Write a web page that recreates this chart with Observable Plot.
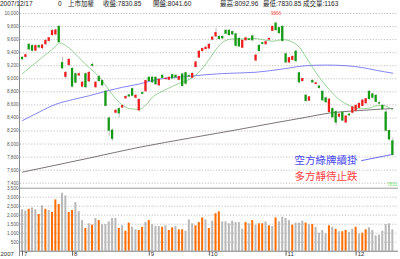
<!DOCTYPE html>
<html><head><meta charset="utf-8">
<script src="https://cdn.jsdelivr.net/npm/d3@7"></script>
<script src="https://cdn.jsdelivr.net/npm/@observablehq/plot@0.6"></script>
<style>
body{margin:0;background:#fff;}
#wrap{position:relative;width:400px;height:259px;overflow:hidden;font-family:"Liberation Sans","Noto Sans CJK TC",sans-serif;}
#hdr span{position:absolute;top:0;font-size:6.5px;line-height:7px;color:#222;white-space:pre;}
#vline{position:absolute;left:19px;top:0;width:1px;height:256px;background:#8a8a8a;}
.panel{position:absolute;left:0;}
</style></head><body>
<div id="wrap"><div id="hdr"></div><div id="price" class="panel" style="top:0"></div><div id="vol" class="panel" style="top:185px"></div><div id="vline"></div></div>
<script>
// ---- data ----
const HEADER_TEXT = ["2007/12/17","0","上市加權","收盤:7830.85","開盤:8041.60","最高:8092.96","最低:7830.85","成交量:1163"];
const OPEN  = [9320,9335,9520,9500,9430,9500,9470,9530,9580,9670,9680,9795,9240,9030,9210,9150,9070,9050,8880,9070,8960,9210,8870,9025,8965,8800,8390,8205,8480,8535,8560,8700,8745,8840,8710,8515,8780,8810,9015,9015,9015,8900,9045,8995,8985,9055,9045,8985,9065,9085,9040,9015,9180,9325,9425,9455,9465,9600,9650,9640,9640,9735,9735,9715,9680,9610,9475,9590,9600,9650,9280,9505,9545,9530,9600,9735,9845,9775,9795,9375,9250,9290,9415,9085,8965,8740,8665,8965,8920,8880,8800,8700,8490,8535,8490,8420,8480,8330,8450,8480,8510,8555,8585,8625,8800,8760,8738,8625,8585,8482,8200,8041.60];
const CLOSE = [9300,9360,9450,9430,9500,9480,9510,9580,9620,9730,9740,9560,9160,9090,9290,8880,8940,9070,8940,8870,9090,9200,8940,8965,8900,8585,8205,8080,8510,8470,8580,8720,8730,8740,8740,8675,8770,8965,8965,8945,8915,8985,9015,9000,9015,9005,9020,9025,8890,8925,9035,9075,9250,9415,9455,9475,9520,9630,9700,9610,9620,9690,9670,9680,9505,9495,9580,9620,9595,9590,9355,9425,9535,9560,9610,9795,9745,9700,9580,9250,9315,9335,9270,8945,8995,8660,8715,8945,8930,8860,8670,8640,8680,8410,8330,8450,8360,8420,8440,8560,8585,8615,8665,8687,8690,8710,8646,8620,8533,8205,8070,7830.85];
const HIGH  = [9340,9380,9540,9520,9520,9520,9530,9600,9640,9750,9760,9810,9330,9110,9310,9170,9090,9100,8960,9090,9110,9240,8960,9050,8980,8820,8420,8230,8530,8560,8600,8740,8760,8860,8760,8690,8800,8980,9030,9030,9030,9000,9060,9020,9030,9070,9060,9040,9080,9100,9060,9090,9270,9430,9470,9490,9540,9650,9775,9660,9660,9750,9750,9730,9700,9630,9600,9640,9620,9670,9370,9520,9560,9580,9630,9810,9866,9790,9810,9390,9330,9350,9430,9100,9010,8760,8730,8990,8950,8900,8820,8720,8700,8560,8510,8470,8500,8440,8470,8580,8600,8630,8680,8700,8820,8780,8760,8650,8600,8533,8210,8092.96];
const LOW   = [9280,9320,9430,9410,9420,9460,9440,9510,9560,9650,9660,9550,9140,9000,9180,8860,8920,9030,8860,8850,8940,9180,8850,8950,8880,8570,8120,8040,8460,8400,8540,8680,8710,8720,8690,8490,8750,8790,8950,8930,8900,8880,9000,8980,8970,8990,9000,8970,8870,8900,9020,9000,9170,9310,9410,9440,9450,9580,9630,9590,9600,9670,9650,9660,9490,9480,9460,9570,9580,9570,9260,9410,9520,9510,9580,9720,9730,9680,9560,9230,9230,9270,9250,8920,8950,8640,8650,8930,8900,8840,8650,8620,8470,8390,8280,8400,8340,8310,8420,8460,8490,8540,8570,8610,8670,8690,8630,8600,8520,8190,8050,7830.85];
const VOLUME = [2300,2230,2330,2400,2300,2040,2520,2330,2260,2150,2850,2600,3220,3070,2150,2260,2700,2190,1700,1260,1520,1450,1820,1700,1480,1480,1630,1820,1820,1260,1410,1110,1560,1330,1190,1150,1330,1590,1700,1480,1370,1370,1330,1410,1150,1300,1370,1190,1190,1110,1740,1520,1410,1590,1850,1740,1260,1670,2080,2190,1630,1630,1520,1670,1590,1590,1220,1590,1520,1700,1450,1520,1520,1630,1410,1370,1850,1630,1890,1820,1700,1450,1560,1560,1670,1560,1480,1480,1330,1000,1150,960,1410,1330,1220,1080,1080,1150,1040,1220,1330,960,1000,1190,1300,1150,850,890,1110,1480,1520,1190];
const VOL_UP = [0,0,1,0,0,1,0,1,0,1, 1,1,0,0,1,1,0,0,0,1, 0,1,0,1,0,0,0,0,0,1, 0,1,1,0,0,1,1,0,1,0, 0,0,1,0,1,1,0,1,1,0, 0,0,1,1,1,0,1,0,1,1, 0,0,0,0,0,0,0,1,0,1, 0,1,1,0,1,0,1,0,0,0, 0,1,0,0,0,1,0,1,0,0, 0,0,1,0,1,0,1,1,0,0, 1,0,1,1,0,0,0,0,0,0, 0,0];
const MA_SHORT_IDX = [0,5,10,11,14,17,20,23,26,29,32,35,37,39,42,47,50,52,55,58,60,63,66,69,73,75,78,81,83,85,87,89,92,95,98,101,104,106,108,111];
const MA_SHORT_VAL = [9080,9290,9500,9550,9470,9320,9170,9030,8820,8640,8545,8530,8600,8720,8810,8930,8990,9060,9230,9450,9560,9610,9610,9620,9590,9575,9600,9560,9480,9330,9170,9020,8830,8680,8590,8540,8550,8585,8590,8520];
const MA_MID_IDX = [0,5,10,15,20,25,30,35,40,50,60,70,78,85,91,97,102,106,111];
const MA_MID_VAL = [8360,8490,8610,8680,8740,8810,8870,8920,8985,9040,9080,9100,9150,9200,9210,9200,9170,9130,9085];
const MA_LONG_IDX = [0,20,35,50,65,74,85,92,100,106,111];
const MA_LONG_VAL = [7570,7785,7950,8090,8225,8310,8410,8475,8510,8530,8545];
const PRICE_TICKS = [7400,7600,7800,8000,8200,8400,8600,8800,9000,9200,9400,9600,9800,10000];
const VOL_TICKS = [500,1000,1500,2000,2500,3000,3500];
const MONTH_LABELS = ["7","8","9","10","11","12"];
const MONTH_START = [0,15,38,56,79,100];
const YEAR_LABEL = "2007";
const NOTE_TEXT = ["空方綠牌續掛","多方靜待止跌"];
const NOTE_I = [91,91];
const NOTE_P = [7745,7500];
const NOTE_LINE_I = [101.5,110.6];
const NOTE_LINE_P = [7745,7838];

// ---- layout ----
const HEADER_X = [0,58,68,103,153,220,263,303];
const FONT = "Liberation Sans, Noto Sans CJK TC, sans-serif";
const RED = "#f01c1c", GREEN = "#149a14";
const X_DOMAIN = [-0.6, 112.7];
const fmt = d3.format(",");

const hdr = document.getElementById("hdr");
HEADER_TEXT.forEach((t, k) => {
  const s = document.createElement("span");
  s.textContent = t; s.style.left = HEADER_X[k] + "px";
  hdr.appendChild(s);
});

const days = d3.range(OPEN.length).map(i => ({i, o: OPEN[i], c: CLOSE[i], h: HIGH[i], l: LOW[i]}));
const maS = MA_SHORT_IDX.map((i, k) => ({i, v: MA_SHORT_VAL[k]}));
const maM = MA_MID_IDX.map((i, k) => ({i, v: MA_MID_VAL[k]}));
const maL = MA_LONG_IDX.map((i, k) => ({i, v: MA_LONG_VAL[k]}));
const notes = NOTE_TEXT.map((t, k) => ({t, i: NOTE_I[k], p: NOTE_P[k], color: k === 0 ? "#4646f0" : "#ff4040"}));
const hiIdx = d3.maxIndex(HIGH);
const lastIdx = CLOSE.length - 1;

const grid = {stroke: "#b8b0b0", strokeDasharray: "1.2,1.6", strokeWidth: 0.8};

const price = Plot.plot({
  width: 400, height: 185,
  marginLeft: 20, marginRight: 2, marginTop: 13, marginBottom: 2.3,
  x: {domain: X_DOMAIN, axis: null},
  y: {domain: [7400, 10000], axis: null},
  style: {background: "transparent", fontFamily: FONT, overflow: "visible"},
  marks: [
    Plot.ruleY(PRICE_TICKS, grid),
    Plot.text(PRICE_TICKS, {y: d => d, text: d => fmt(d), frameAnchor: "left", textAnchor: "end", dx: -2, fontSize: 4.6, fill: "#555"}),
    Plot.line(maL, {x: "i", y: "v", stroke: "#5a5252", strokeWidth: 0.8, curve: "monotone-x"}),
    Plot.line(maM, {x: "i", y: "v", stroke: "#6464f4", strokeWidth: 0.8, curve: "monotone-x"}),
    Plot.line(maS, {x: "i", y: "v", stroke: "#6cbf6c", strokeWidth: 0.7, curve: "monotone-x"}),
    Plot.ruleX(days, {x: "i", y1: "l", y2: "h", stroke: "#a8a8a8", strokeWidth: 0.7}),
    Plot.rect(days, {x1: d => d.i - 0.34, x2: d => d.i + 0.34, y1: "o", y2: "c", insetTop: -0.5, insetBottom: -0.5,
      fill: d => d.c >= d.o ? RED : GREEN}),
    Plot.text([hiIdx], {x: d => d, y: d => HIGH[d], text: d => String(Math.round(HIGH[d])), dy: -9, fontSize: 4.6, fill: "#ff5050"}),
    Plot.text([lastIdx], {frameAnchor: "bottom-right", text: d => String(Math.round(LOW[d])), textAnchor: "end", lineAnchor: "bottom", dx: -1, dy: 2.3, fontSize: 4.6, fill: "#66dd66"}),
    Plot.link([0], {x1: () => NOTE_LINE_I[0], y1: () => NOTE_LINE_P[0], x2: () => NOTE_LINE_I[1], y2: () => NOTE_LINE_P[1], stroke: "#4646f0", strokeWidth: 0.8}),
    Plot.text(notes, {x: "i", y: "p", text: "t", fill: "color", fontSize: 10.5, fontFamily: "Noto Sans CJK TC"})
  ]
});
document.getElementById("price").appendChild(price);

const vols = VOLUME.map((v, i) => ({i, v, up: VOL_UP[i]}));
const VH = 74, VMT = 2.7, VMB = 8.3;
const vol = Plot.plot({
  width: 400, height: VH,
  marginLeft: 20, marginRight: 2, marginTop: VMT, marginBottom: VMB,
  x: {domain: X_DOMAIN, axis: null},
  y: {domain: [0, 3500], axis: null},
  style: {background: "transparent", fontFamily: FONT, overflow: "visible"},
  marks: [
    Plot.ruleY(VOL_TICKS.slice(0, -1), grid),
    Plot.ruleY(VOL_TICKS.slice(-1), {stroke: "#9a9a9a", strokeWidth: 1}),
    Plot.text(VOL_TICKS, {y: d => d, text: d => fmt(d), frameAnchor: "left", textAnchor: "end", dx: -2, fontSize: 4.6, fill: "#555"}),
    Plot.rect(vols, {x1: d => d.i - 0.3, x2: d => d.i + 0.3, y1: 0, y2: "v", fill: d => d.up ? "#ff6c00" : "#b8b8b8"}),
    Plot.ruleY([0], {stroke: "#7a7a7a", strokeWidth: 1}),
    Plot.ruleX(MONTH_START, {x: d => d, insetTop: VH - VMT - VMB, insetBottom: -5, stroke: "#666", strokeWidth: 1}),
    Plot.text(MONTH_START, {x: d => d, text: (d, k) => MONTH_LABELS[k], frameAnchor: "bottom", textAnchor: "start", lineAnchor: "top", dx: 1.5, dy: 0.3, fontSize: 6, fill: "#333"}),
    Plot.text([YEAR_LABEL], {frameAnchor: "bottom-left", text: d => d, textAnchor: "start", lineAnchor: "top", dx: -20, dy: 0.3, fontSize: 6, fill: "#333"})
  ]
});
document.getElementById("vol").appendChild(vol);
</script>
</body></html>
